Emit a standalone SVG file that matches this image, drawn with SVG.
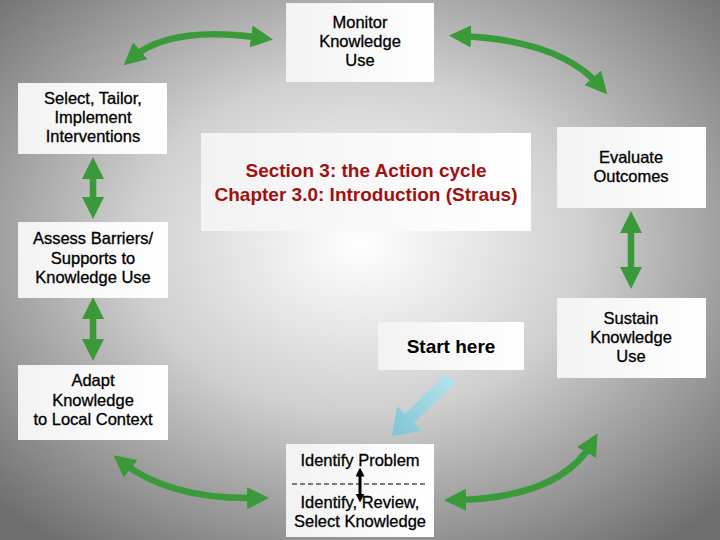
<svg xmlns="http://www.w3.org/2000/svg" width="720" height="540" viewBox="0 0 720 540">
<defs>
<radialGradient id="bg" cx="0.5" cy="0.45" r="0.7">
<stop offset="0" stop-color="#ffffff"/><stop offset="0.45" stop-color="#cfcfcf"/><stop offset="1" stop-color="#6e6e6e"/>
</radialGradient>
<linearGradient id="box" x1="0" y1="0" x2="1" y2="0"><stop offset="0" stop-color="#f2f2f2"/><stop offset="1" stop-color="#ffffff"/></linearGradient>
<linearGradient id="blue" x1="1" y1="0" x2="0" y2="1"><stop offset="0" stop-color="#b8e4ee"/><stop offset="1" stop-color="#7fc4d4"/></linearGradient>
<marker id="ah" viewBox="0 0 10 10" refX="5" refY="5" markerWidth="3.4" markerHeight="3.4" orient="auto-start-reverse"><path d="M0,0 L10,5 L0,10 z" fill="#3a9a3a"/></marker>
<marker id="bh" viewBox="0 0 10 10" refX="5" refY="5" markerWidth="3" markerHeight="3" orient="auto-start-reverse"><path d="M0,0 L10,5 L0,10 z" fill="#000"/></marker>
</defs>
<style>
.b{fill:url(#box)}
.t{font-family:"Liberation Sans",Arial,sans-serif;font-size:16.5px;fill:#000;text-anchor:middle;stroke:#000;stroke-width:0.3}
.g{fill:none;stroke:#3a9a3a;stroke-width:6.5;marker-start:url(#ah);marker-end:url(#ah)}
.r{font-size:19px;font-weight:bold;fill:#a01010;stroke:none}
</style>
<rect width="720" height="540" fill="url(#bg)"/>
<g id="connectors">
<path class="g" d="M132,58 Q170,25 262,38"/>
<path class="g" d="M460,36 Q560,40 600,86"/>
<path class="g" d="M122,462 Q170,500 258,498"/>
<path class="g" d="M455,500 Q560,498 592,443"/>
<path class="g" d="M93,168 V208"/>
<path class="g" d="M93,308 V350"/>
<path class="g" d="M631,222 V278"/>
<path d="M455,383 L414,423 L422,431 L392,436 L397,406 L405,414 L446,374 Z" fill="url(#blue)"/>
</g>
<g id="monitor"><rect class="b" x="286" y="3" width="148" height="79"/><text class="t" x="360" y="28">Monitor</text><text class="t" x="360" y="47">Knowledge</text><text class="t" x="360" y="66">Use</text></g>
<g id="select"><rect class="b" x="18" y="83" width="149" height="71"/><text class="t" x="93" y="104">Select, Tailor,</text><text class="t" x="93" y="123">Implement</text><text class="t" x="93" y="142">Interventions</text></g>
<g id="center"><rect class="b" x="201" y="133" width="330" height="98"/><text class="t r" x="366" y="177">Section 3: the Action cycle</text><text class="t r" x="366" y="201">Chapter 3.0: Introduction (Straus)</text></g>
<g id="evaluate"><rect class="b" x="557" y="127" width="149" height="81"/><text class="t" x="631" y="163">Evaluate</text><text class="t" x="631" y="182">Outcomes</text></g>
<g id="assess"><rect class="b" x="18" y="222" width="150" height="76"/><text class="t" x="93" y="244">Assess Barriers/</text><text class="t" x="93" y="264">Supports to</text><text class="t" x="93" y="283">Knowledge Use</text></g>
<g id="start"><rect class="b" x="378" y="322" width="146" height="48"/><text class="t" x="451" y="353" style="font-size:19px;font-weight:bold;stroke:none">Start here</text></g>
<g id="sustain"><rect class="b" x="557" y="298" width="149" height="80"/><text class="t" x="631" y="324">Sustain</text><text class="t" x="631" y="343">Knowledge</text><text class="t" x="631" y="362">Use</text></g>
<g id="adapt"><rect class="b" x="18" y="365" width="150" height="75"/><text class="t" x="93" y="386">Adapt</text><text class="t" x="93" y="406">Knowledge</text><text class="t" x="93" y="425">to Local Context</text></g>
<g id="identify"><rect class="b" x="286" y="444" width="148" height="93"/><text class="t" x="360" y="466">Identify Problem</text><line x1="292" y1="484" x2="428" y2="484" stroke="#000" stroke-dasharray="5,3"/><path d="M360,472 V498" stroke="#000" stroke-width="3" marker-start="url(#bh)" marker-end="url(#bh)"/><text class="t" x="360" y="508">Identify, Review,</text><text class="t" x="360" y="527">Select Knowledge</text></g>
</svg>
